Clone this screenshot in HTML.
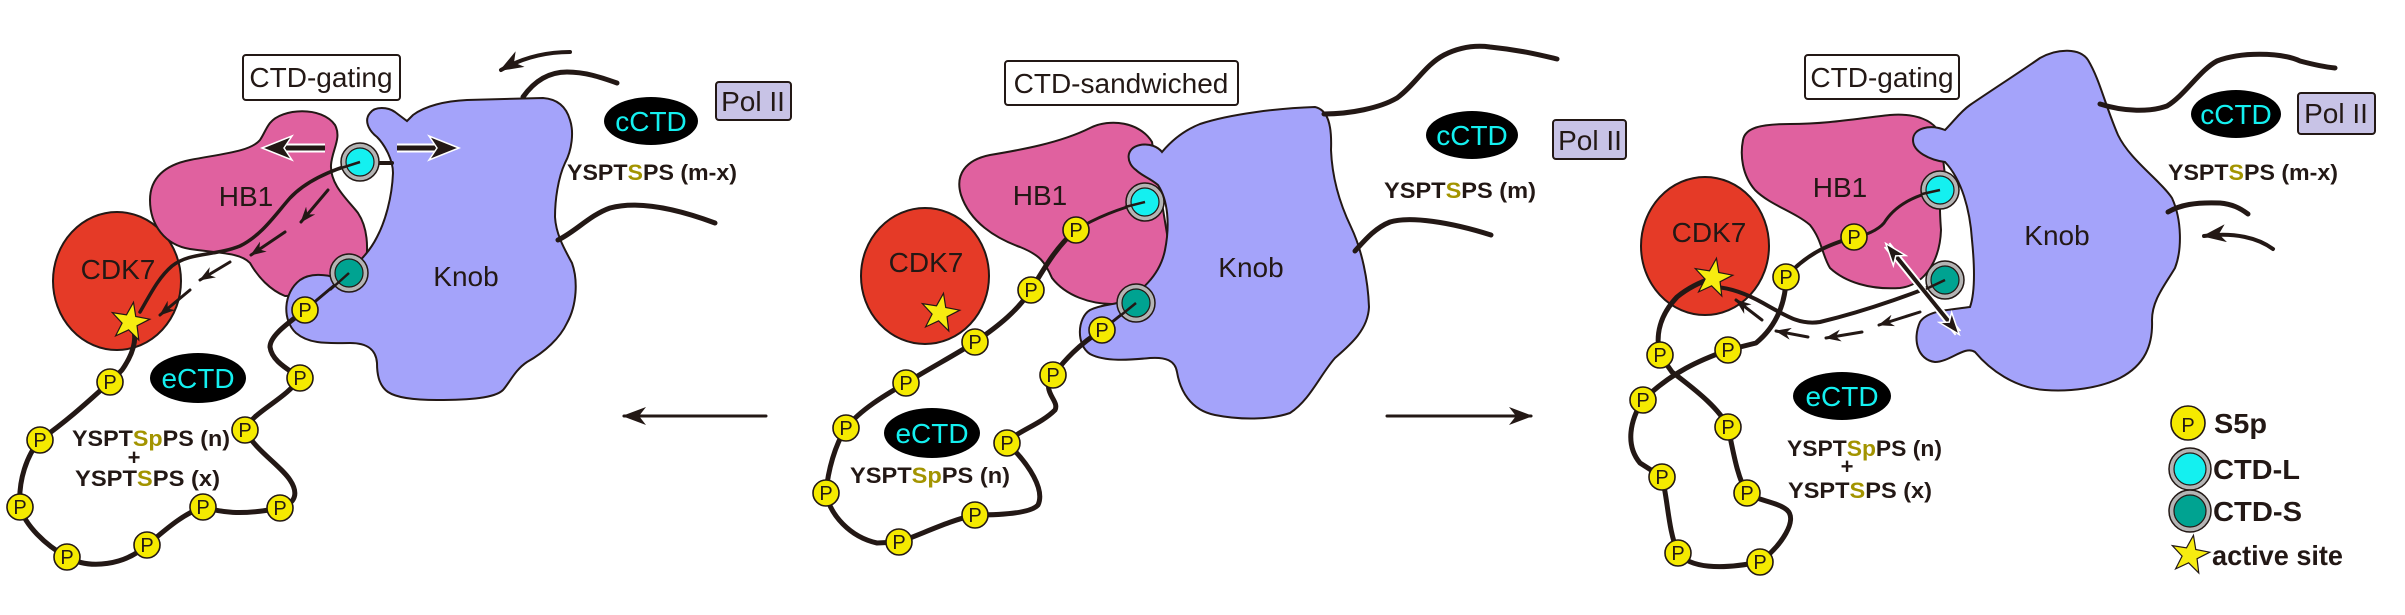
<!DOCTYPE html>
<html><head><meta charset="utf-8"><style>
html,body{margin:0;padding:0;background:#fff;}
svg{display:block;}
.ln{fill:none;stroke:#231815;stroke-linecap:round;stroke-linejoin:round}
.pc{fill:#f5ea00;stroke:#231815;stroke-width:1.6}
.pt{font-size:20px;text-anchor:middle;fill:#231815}
.lab{font-size:28px;text-anchor:middle;fill:#231815}
.seq{font-size:22px;font-weight:bold;fill:#231815}
.ol{fill:#a39400}
.leg{font-size:28px;font-weight:bold;fill:#231815}
.ring{fill:#b4b4b4;stroke:#231815;stroke-width:1.5}
.cy{fill:#14f0f0;stroke:#231815;stroke-width:1.2}
.tl{fill:#00a391;stroke:#231815;stroke-width:1.2}
.shape{stroke:#231815;stroke-width:2}
.star{fill:#f7ec10;stroke:#231815;stroke-width:1.2}
</style></head><body>
<svg width="2405" height="615" viewBox="0 0 2405 615" xmlns="http://www.w3.org/2000/svg" font-family="Liberation Sans, Arial, sans-serif">
<defs>
<marker id="big" markerUnits="userSpaceOnUse" markerWidth="24" markerHeight="18" viewBox="0 0 24 18" refX="22" refY="9" orient="auto"><path d="M0,0 L24,9 L0,18 L7,9 Z" fill="#231815"/></marker>
<marker id="sm" markerUnits="userSpaceOnUse" markerWidth="16" markerHeight="12" viewBox="0 0 16 12" refX="15" refY="6" orient="auto"><path d="M0,0 L16,6 L0,12 L5,6 Z" fill="#231815"/></marker>
<marker id="wh" markerUnits="userSpaceOnUse" markerWidth="26" markerHeight="20" viewBox="-2 -2 26 20" refX="20" refY="8" orient="auto"><path d="M0,0 L22,8 L0,16 L6,8 Z" fill="#231815" stroke="#fff" stroke-width="1.5"/></marker>
<marker id="whs" markerUnits="userSpaceOnUse" markerWidth="26" markerHeight="20" viewBox="-2 -2 26 20" refX="2" refY="8" orient="auto"><path d="M22,0 L0,8 L22,16 L16,8 Z" fill="#231815" stroke="#fff" stroke-width="1.5"/></marker>
</defs>

<!-- ================= PANEL 1 ================= -->
<ellipse cx="117" cy="281" rx="64" ry="69" fill="#e53a27" class="shape"/>
<path class="shape" fill="#e0619f" d="M270,123 C282,108 322,106 335,125 C342,138 332,150 331,165 C330,185 348,200 358,213 C368,228 368,248 366,262 L340,286 C320,292 300,296 285,296 C270,290 258,277 250,263 C240,252 215,253 190,249 C165,245 150,225 150,200 C150,178 165,165 190,160 C220,154 250,152 260,140 C264,134 266,128 270,123 Z"/>
<path class="shape" fill="#a4a3fa" d="M370,113 C375,106 388,107 395,112 L407,121 L413,115 C425,106 445,101 467,100 L543,98 C557,99 566,106 570,120 C574,132 572,150 565,163 C558,178 555,200 555,217 C556,235 565,250 572,263 C578,280 577,305 567,323 C560,338 545,352 527,362 C515,370 510,382 503,390 C495,398 470,400 437,400 C415,400 397,398 388,392 C378,385 377,372 377,363 C376,350 368,343 350,343 C330,343 310,345 296,333 C282,320 283,293 300,280 C310,273 325,274 337,278 C352,270 368,255 377,237 C385,222 392,198 393,173 C393,160 385,145 377,137 C368,130 364,120 370,113 Z"/>
<text class="lab" x="246" y="206">HB1</text>
<text class="lab" x="118" y="279">CDK7</text>
<text class="lab" x="466" y="286">Knob</text>

<rect x="243" y="55" width="157" height="45" rx="3" fill="#fff" stroke="#231815" stroke-width="2"/>
<text class="lab" x="321" y="87">CTD-gating</text>

<!-- top curves -->
<path class="ln" stroke-width="4" d="M570,52 C545,52 522,58 501,70" marker-end="url(#big)"/>
<path class="ln" stroke-width="5" d="M523,97 C535,80 550,72 567,72 C585,72 600,77 617,83"/>
<path class="ln" stroke-width="5" d="M558,240 C575,232 590,215 610,208 C640,200 680,210 715,223"/>
<rect x="716" y="82" width="75" height="38" rx="3" fill="#c8c3e6" stroke="#231815" stroke-width="2"/>
<text class="lab" x="753" y="111" font-size="27">Pol II</text>
<ellipse cx="651" cy="121" rx="47" ry="24" fill="#000"/>
<text class="lab" x="651" y="131" fill="#14f0f0" style="fill:#14f0f0">cCTD</text>
<text class="seq" x="567" y="180" textLength="170" lengthAdjust="spacingAndGlyphs">YSPT<tspan class="ol">S</tspan>PS (m-x)</text>

<!-- CTD lines -->
<path class="ln" stroke-width="3.5" d="M360,162 C330,170 305,182 290,198 C275,215 262,235 240,246 C215,256 190,252 172,266 C158,278 150,295 140,312"/>
<path class="ln" stroke-width="5" d="M130,322 C138,333 136,350 122,370 L110,382 C97,393 75,415 40,440 C27,455 18,480 20,507 C25,525 45,545 67,557 C90,570 125,565 147,545 C160,535 180,515 203,507 C220,512 240,516 280,508 C297,503 298,492 290,480 C280,465 255,450 245,430 C252,412 285,400 300,378 C290,370 272,362 270,347 C270,335 290,322 305,310"/>
<path class="ln" stroke-width="3" d="M305,310 L349,273"/>
<path class="ln" stroke-width="4" d="M378,163 L392,163"/>

<!-- dashed arrows -->
<path class="ln" stroke-width="3" d="M328,190 L301,222" marker-end="url(#sm)"/>
<path class="ln" stroke-width="3" d="M285,232 L251,255" marker-end="url(#sm)"/>
<path class="ln" stroke-width="3" d="M230,262 L200,280" marker-end="url(#sm)"/>
<path class="ln" stroke-width="3" d="M190,290 L160,315" marker-end="url(#sm)"/>

<!-- horizontal white-outlined arrows -->
<line x1="283" y1="148" x2="325" y2="148" stroke="#fff" stroke-width="9"/>
<line x1="283" y1="148" x2="325" y2="148" stroke="#231815" stroke-width="5"/>
<polygon points="262,148 292,136 284,148 292,160" fill="#231815" stroke="#fff" stroke-width="1.5"/>
<line x1="397" y1="148" x2="438" y2="148" stroke="#fff" stroke-width="9"/>
<line x1="397" y1="148" x2="438" y2="148" stroke="#231815" stroke-width="5"/>
<polygon points="459,148 429,136 437,148 429,160" fill="#231815" stroke="#fff" stroke-width="1.5"/>

<!-- circles -->
<circle class="ring" cx="360" cy="162" r="19"/><circle class="cy" cx="360" cy="162" r="14"/>
<circle class="ring" cx="349" cy="273" r="19"/><circle class="tl" cx="349" cy="273" r="14"/>
<line x1="360" y1="162" x2="335" y2="170" stroke="#231815" stroke-width="2.5"/>
<line x1="349" y1="273" x2="330" y2="290" stroke="#231815" stroke-width="2.5"/>

<g class="pg">
<circle class="pc" cx="305" cy="310" r="13"/><text class="pt" x="305" y="317">P</text>
<circle class="pc" cx="300" cy="378" r="13"/><text class="pt" x="300" y="385">P</text>
<circle class="pc" cx="245" cy="430" r="13"/><text class="pt" x="245" y="437">P</text>
<circle class="pc" cx="280" cy="508" r="13"/><text class="pt" x="280" y="515">P</text>
<circle class="pc" cx="203" cy="507" r="13"/><text class="pt" x="203" y="514">P</text>
<circle class="pc" cx="147" cy="545" r="13"/><text class="pt" x="147" y="552">P</text>
<circle class="pc" cx="67" cy="557" r="13"/><text class="pt" x="67" y="564">P</text>
<circle class="pc" cx="20" cy="507" r="13"/><text class="pt" x="20" y="514">P</text>
<circle class="pc" cx="40" cy="440" r="13"/><text class="pt" x="40" y="447">P</text>
<circle class="pc" cx="110" cy="382" r="13"/><text class="pt" x="110" y="389">P</text>
</g>
<polygon class="star" transform="translate(130,322) rotate(10)" points="0,-20 4.7,-6.47 19.02,-6.18 7.61,2.47 11.76,16.18 0,8 -11.76,16.18 -7.61,2.47 -19.02,-6.18 -4.7,-6.47"/>

<ellipse cx="198" cy="378" rx="48" ry="25" fill="#000"/>
<text class="lab" x="198" y="388" style="fill:#14f0f0">eCTD</text>
<text class="seq" x="72" y="446" textLength="158" lengthAdjust="spacingAndGlyphs">YSPT<tspan class="ol">Sp</tspan>PS (n)</text>
<text class="seq" x="134" y="465" text-anchor="middle" font-size="20">+</text>
<text class="seq" x="75" y="486" textLength="145" lengthAdjust="spacingAndGlyphs">YSPT<tspan class="ol">S</tspan>PS (x)</text>

<!-- between-panel arrows -->
<line class="ln" stroke-width="3" x1="766" y1="416" x2="624" y2="416" marker-end="url(#big)"/>
<line class="ln" stroke-width="3" x1="1387" y1="416" x2="1531" y2="416" marker-end="url(#big)"/>

<!-- ================= PANEL 2 ================= -->
<ellipse cx="925" cy="276" rx="64" ry="68" fill="#e53a27" class="shape"/>
<path class="shape" fill="#e0619f" d="M961,195 C955,175 965,160 990,155 C1020,150 1060,143 1090,128 C1110,118 1140,122 1152,142 L1168,240 C1168,275 1150,300 1117,304 C1090,305 1065,295 1052,278 C1045,262 1040,255 1020,247 C995,238 970,222 961,195 Z"/>
<path class="shape" fill="#a4a3fa" d="M1136,170 C1126,163 1125,148 1140,145 C1150,143 1158,147 1162,152 C1172,140 1185,130 1200,124 C1230,114 1280,108 1315,107 C1328,110 1332,125 1331,150 C1332,175 1338,200 1351,227 C1362,250 1368,280 1369,307 C1368,330 1350,345 1335,358 C1320,375 1310,400 1290,413 C1270,420 1240,420 1215,415 C1190,410 1180,390 1177,372 C1175,360 1165,357 1150,358 C1130,360 1105,362 1090,354 C1076,345 1077,318 1090,310 C1100,305 1110,305 1117,303 C1140,295 1160,275 1165,250 C1170,225 1168,200 1158,185 C1150,178 1142,176 1136,170 Z"/>
<text class="lab" x="1040" y="205">HB1</text>
<text class="lab" x="926" y="272">CDK7</text>
<text class="lab" x="1251" y="277">Knob</text>

<rect x="1005" y="61" width="233" height="44" rx="3" fill="#fff" stroke="#231815" stroke-width="2"/>
<text class="lab" x="1121" y="93">CTD-sandwiched</text>

<path class="ln" stroke-width="5" d="M1324,114 C1350,114 1380,108 1397,98 C1415,85 1425,65 1444,55 C1460,47 1475,45 1490,47 C1520,50 1540,55 1557,59"/>
<path class="ln" stroke-width="5" d="M1355,251 C1365,240 1375,228 1390,222 C1410,216 1450,222 1491,235"/>
<ellipse cx="1472" cy="135" rx="46" ry="24" fill="#000"/>
<text class="lab" x="1472" y="145" style="fill:#14f0f0">cCTD</text>
<rect x="1553" y="120" width="73" height="39" rx="3" fill="#c8c3e6" stroke="#231815" stroke-width="2"/>
<text class="lab" x="1590" y="150" font-size="27">Pol II</text>
<text class="seq" x="1384" y="198" textLength="152" lengthAdjust="spacingAndGlyphs">YSPT<tspan class="ol">S</tspan>PS (m)</text>

<path class="ln" stroke-width="3" d="M1145,202 C1120,208 1095,218 1076,230"/>
<path class="ln" stroke-width="5" d="M1076,230 C1058,245 1046,265 1031,290 C1018,310 1000,325 975,342 C955,355 930,368 906,383 C885,395 860,410 846,428 C835,445 828,470 826,493 C830,515 850,537 877,543 L899,542 C920,535 950,520 975,515 C995,515 1030,514 1038,505 C1045,490 1030,465 1007,443 C1015,432 1040,425 1055,410 C1060,400 1040,392 1053,375 C1065,360 1078,345 1102,330"/>
<path class="ln" stroke-width="3" d="M1102,330 L1136,303"/>

<circle class="ring" cx="1145" cy="202" r="19"/><circle class="cy" cx="1145" cy="202" r="14"/>
<circle class="ring" cx="1136" cy="303" r="19"/><circle class="tl" cx="1136" cy="303" r="14"/>
<line x1="1145" y1="202" x2="1125" y2="207" stroke="#231815" stroke-width="2.5"/>
<line x1="1136" y1="303" x2="1120" y2="316" stroke="#231815" stroke-width="2.5"/>

<circle class="pc" cx="1076" cy="230" r="13"/><text class="pt" x="1076" y="237">P</text>
<circle class="pc" cx="1031" cy="290" r="13"/><text class="pt" x="1031" y="297">P</text>
<circle class="pc" cx="975" cy="342" r="13"/><text class="pt" x="975" y="349">P</text>
<circle class="pc" cx="906" cy="383" r="13"/><text class="pt" x="906" y="390">P</text>
<circle class="pc" cx="846" cy="428" r="13"/><text class="pt" x="846" y="435">P</text>
<circle class="pc" cx="826" cy="493" r="13"/><text class="pt" x="826" y="500">P</text>
<circle class="pc" cx="899" cy="542" r="13"/><text class="pt" x="899" y="549">P</text>
<circle class="pc" cx="975" cy="515" r="13"/><text class="pt" x="975" y="522">P</text>
<circle class="pc" cx="1007" cy="443" r="13"/><text class="pt" x="1007" y="450">P</text>
<circle class="pc" cx="1053" cy="375" r="13"/><text class="pt" x="1053" y="382">P</text>
<circle class="pc" cx="1102" cy="330" r="13"/><text class="pt" x="1102" y="337">P</text>
<polygon class="star" transform="translate(940,313) rotate(10)" points="0,-20 4.7,-6.47 19.02,-6.18 7.61,2.47 11.76,16.18 0,8 -11.76,16.18 -7.61,2.47 -19.02,-6.18 -4.7,-6.47"/>

<ellipse cx="932" cy="433" rx="48" ry="25" fill="#000"/>
<text class="lab" x="932" y="443" style="fill:#14f0f0">eCTD</text>
<text class="seq" x="850" y="483" textLength="160" lengthAdjust="spacingAndGlyphs">YSPT<tspan class="ol">Sp</tspan>PS (n)</text>

<!-- ================= PANEL 3 ================= -->
<ellipse cx="1705" cy="246" rx="64" ry="69" fill="#e53a27" class="shape"/>
<path class="shape" fill="#e0619f" d="M1743,140 C1745,128 1760,124 1790,124 C1830,124 1860,118 1890,115 C1915,113 1935,120 1940,135 L1945,175 C1938,195 1940,215 1941,230 C1940,260 1925,285 1900,288 C1870,290 1845,282 1830,268 C1822,255 1822,240 1810,225 C1795,212 1770,205 1755,190 C1742,175 1740,155 1743,140 Z"/>
<path class="shape" fill="#a4a3fa" d="M1945,162 C1930,160 1913,152 1913,140 C1913,128 1930,124 1945,130 C1955,120 1960,112 1970,105 C1995,88 2020,72 2040,58 C2058,48 2080,48 2088,60 C2100,80 2105,105 2118,135 C2130,160 2160,180 2172,198 C2182,220 2182,250 2175,268 C2165,285 2152,300 2152,320 C2153,345 2145,365 2120,378 C2100,388 2070,392 2045,390 C2015,388 1990,370 1975,352 C1965,345 1950,362 1935,362 C1918,360 1912,340 1920,322 C1928,310 1950,310 1970,307 C1976,290 1974,260 1972,240 C1970,210 1962,180 1945,162 Z"/>
<text class="lab" x="1840" y="197">HB1</text>
<text class="lab" x="1709" y="242">CDK7</text>
<text class="lab" x="2057" y="245">Knob</text>

<rect x="1805" y="55" width="154" height="44" rx="3" fill="#fff" stroke="#231815" stroke-width="2"/>
<text class="lab" x="1882" y="87">CTD-gating</text>

<path class="ln" stroke-width="5" d="M2100,104 C2125,112 2150,112 2167,106 C2185,95 2200,70 2217,61 C2240,52 2280,52 2300,61 C2315,65 2325,67 2335,68"/>
<path class="ln" stroke-width="5" d="M2168,212 C2180,205 2195,202 2220,203 C2232,204 2240,208 2248,214"/>
<path class="ln" stroke-width="4" d="M2273,249 C2258,238 2235,232 2204,236" marker-end="url(#big)"/>
<ellipse cx="2236" cy="114" rx="45" ry="24" fill="#000"/>
<text class="lab" x="2236" y="124" style="fill:#14f0f0">cCTD</text>
<rect x="2298" y="93" width="77" height="41" rx="3" fill="#c8c3e6" stroke="#231815" stroke-width="2"/>
<text class="lab" x="2336" y="123" font-size="27">Pol II</text>
<text class="seq" x="2168" y="180" textLength="170" lengthAdjust="spacingAndGlyphs">YSPT<tspan class="ol">S</tspan>PS (m-x)</text>

<!-- CTD chain panel 3 -->
<path class="ln" stroke-width="3" d="M1940,190 C1915,195 1895,205 1884,223 C1878,230 1865,236 1854,237"/>
<path class="ln" stroke-width="4" d="M1854,237 C1835,243 1810,250 1786,277"/>
<path class="ln" stroke-width="5" d="M1786,277 C1786,300 1778,325 1756,343 L1728,350 C1700,360 1672,372 1643,400 C1630,420 1625,445 1640,463 L1662,477 C1668,500 1668,530 1678,553 C1690,568 1720,570 1760,562 C1782,545 1798,520 1787,510 C1778,502 1755,500 1747,493 C1737,477 1733,450 1728,427 C1720,410 1700,393 1672,372 L1660,355 C1655,335 1660,315 1677,297 C1688,288 1700,282 1713,278"/>
<path class="ln" stroke-width="4" d="M1945,280 C1924,290 1870,310 1820,322 C1800,325 1788,317 1763,303 C1745,293 1730,288 1716,287"/>

<!-- dashed arrows panel 3 -->
<path class="ln" stroke-width="3" d="M1920,312 L1879,325" marker-end="url(#sm)"/>
<path class="ln" stroke-width="3" d="M1862,332 L1826,338" marker-end="url(#sm)"/>
<path class="ln" stroke-width="3" d="M1808,337 L1776,331" marker-end="url(#sm)"/>
<path class="ln" stroke-width="3" d="M1762,320 L1736,300" marker-end="url(#sm)"/>

<!-- double arrow -->
<line x1="1887" y1="245" x2="1958" y2="333" stroke="#fff" stroke-width="8"/>
<line x1="1887" y1="245" x2="1958" y2="333" stroke="#231815" stroke-width="4" marker-start="url(#whs)" marker-end="url(#wh)"/>

<circle class="ring" cx="1940" cy="190" r="19"/><circle class="cy" cx="1940" cy="190" r="14"/>
<circle class="ring" cx="1945" cy="280" r="19"/><circle class="tl" cx="1945" cy="280" r="14"/>
<line x1="1940" y1="190" x2="1922" y2="194" stroke="#231815" stroke-width="2.5"/>
<line x1="1945" y1="280" x2="1926" y2="289" stroke="#231815" stroke-width="2.5"/>

<circle class="pc" cx="1854" cy="237" r="13"/><text class="pt" x="1854" y="244">P</text>
<circle class="pc" cx="1786" cy="277" r="13"/><text class="pt" x="1786" y="284">P</text>
<circle class="pc" cx="1728" cy="350" r="13"/><text class="pt" x="1728" y="357">P</text>
<circle class="pc" cx="1643" cy="400" r="13"/><text class="pt" x="1643" y="407">P</text>
<circle class="pc" cx="1662" cy="477" r="13"/><text class="pt" x="1662" y="484">P</text>
<circle class="pc" cx="1678" cy="553" r="13"/><text class="pt" x="1678" y="560">P</text>
<circle class="pc" cx="1760" cy="562" r="13"/><text class="pt" x="1760" y="569">P</text>
<circle class="pc" cx="1747" cy="493" r="13"/><text class="pt" x="1747" y="500">P</text>
<circle class="pc" cx="1728" cy="427" r="13"/><text class="pt" x="1728" y="434">P</text>
<circle class="pc" cx="1660" cy="355" r="13"/><text class="pt" x="1660" y="362">P</text>
<polygon class="star" transform="translate(1713,278) rotate(10)" points="0,-20 4.7,-6.47 19.02,-6.18 7.61,2.47 11.76,16.18 0,8 -11.76,16.18 -7.61,2.47 -19.02,-6.18 -4.7,-6.47"/>

<ellipse cx="1842" cy="396" rx="49" ry="24" fill="#000"/>
<text class="lab" x="1842" y="406" style="fill:#14f0f0">eCTD</text>
<text class="seq" x="1787" y="456" textLength="155" lengthAdjust="spacingAndGlyphs">YSPT<tspan class="ol">Sp</tspan>PS (n)</text>
<text class="seq" x="1847" y="474" text-anchor="middle" font-size="20">+</text>
<text class="seq" x="1788" y="498" textLength="144" lengthAdjust="spacingAndGlyphs">YSPT<tspan class="ol">S</tspan>PS (x)</text>

<!-- legend -->
<circle class="pc" cx="2188" cy="423" r="17"/><text class="pt" x="2188" y="432" font-size="26">P</text>
<text class="leg" x="2214" y="433" textLength="53" lengthAdjust="spacingAndGlyphs">S5p</text>
<circle class="ring" cx="2190" cy="469" r="21"/><circle class="cy" cx="2190" cy="469" r="16"/>
<text class="leg" x="2213" y="479" textLength="87" lengthAdjust="spacingAndGlyphs">CTD-L</text>
<circle class="ring" cx="2190" cy="511" r="21"/><circle class="tl" cx="2190" cy="511" r="16"/>
<text class="leg" x="2213" y="521" textLength="89" lengthAdjust="spacingAndGlyphs">CTD-S</text>
<polygon class="star" transform="translate(2190,555) rotate(10)" points="0,-20 4.7,-6.47 19.02,-6.18 7.61,2.47 11.76,16.18 0,8 -11.76,16.18 -7.61,2.47 -19.02,-6.18 -4.7,-6.47"/>
<text class="leg" x="2212" y="565" textLength="131" lengthAdjust="spacingAndGlyphs">active site</text>
</svg>
</body></html>
